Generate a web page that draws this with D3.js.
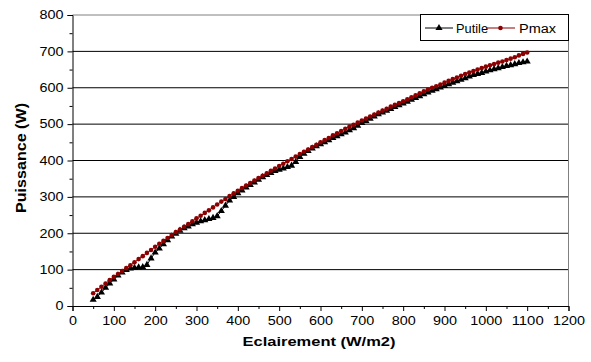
<!DOCTYPE html>
<html><head><meta charset="utf-8">
<script src="https://cdn.jsdelivr.net/npm/d3@7"></script>
<style>
html,body{margin:0;padding:0;background:#fff;}
svg{display:block;font-family:"Liberation Sans",Arial,sans-serif;}
</style></head>
<body><svg id="c" width="591" height="362"></svg>
<script>
const irradiance = [50,60,70,80,90,100,110,120,130,140,150,160,170,180,190,200,210,220,230,240,250,260,270,280,290,300,310,320,330,340,350,360,370,380,390,400,410,420,430,440,450,460,470,480,490,500,510,520,530,540,550,560,570,580,590,600,610,620,630,640,650,660,670,680,690,700,710,720,730,740,750,760,770,780,790,800,810,820,830,840,850,860,870,880,890,900,910,920,930,940,950,960,970,980,990,1000,1010,1020,1030,1040,1050,1060,1070,1080,1090,1100];
const putile = [17,25,37,50,62,73,84,92,99,103,105,106,107,113,131,147,158,170,181,191,199,207,214,219,225,229,233,236,239,242,247,261,276,290,300,310,318,326,333,340,347,354,360,366,371,375,378,382,386,396,410,419,426,433,439,445,450,456,462,467,472,477,483,489,496,503,509,515,521,527,532,537,542,547,552,557,562,567,572,577,582,587,592,596,601,605,610,614,618,622,626,631,635,638,641,645,648,651,654,657,660,662,665,668,670,672];
const pmax = [35,44,53,62,71,80,88,96,104,112,120,129,137,146,154,163,171,179,187,195,203,210,218,225,233,241,248,256,263,271,279,287,294,302,310,317,324,331,338,345,352,358,365,372,378,385,391,398,404,411,418,424,430,437,443,450,456,462,469,475,481,487,493,498,504,510,515,521,526,532,537,542,548,553,558,563,568,574,579,585,590,595,600,604,609,614,619,624,628,633,638,642,646,650,654,658,662,665,669,672,676,680,684,689,693,697];
const xTicks = [0,100,200,300,400,500,600,700,800,900,1000,1100,1200];
const yTicks = [0,100,200,300,400,500,600,700,800];
const seriesNames = ["Putile","Pmax"];
const xTitle = "Eclairement (W/m2)";
const yTitle = "Puissance (W)";

const svg = d3.select("#c");
const x = d3.scaleLinear().domain([0,1200]).range([72.5,568.5]);
const y = d3.scaleLinear().domain([0,800]).range([306,15]);
const RED = "#8b0000";

// gridlines
svg.append("g").selectAll("line").data(yTicks.filter(d=>d>0&&d<800)).join("line")
  .attr("x1",x(0)).attr("x2",x(1200)).attr("y1",d=>y(d)).attr("y2",d=>y(d))
  .attr("stroke","#000").attr("stroke-width",1);
// plot border top/right
svg.append("path").attr("d",`M${x(0)},${y(800)}H${x(1200)}V${y(0)}`)
  .attr("fill","none").attr("stroke","#808080").attr("stroke-width",1);

// axes
const yAxis = d3.axisLeft(y).tickValues(yTicks).tickSize(5).tickPadding(4).tickFormat(d3.format("d"));
const gy = svg.append("g").attr("transform",`translate(${x(0)},0)`).call(yAxis);
const yMinor = svg.append("g").attr("transform",`translate(${x(0)},0)`)
  .call(d3.axisLeft(y).tickValues(d3.range(50,800,100)).tickSize(3).tickFormat(""));
const xAxis = d3.axisBottom(x).tickValues(xTicks).tickSize(5).tickPadding(5).tickFormat(d3.format("d"));
const gx = svg.append("g").attr("transform",`translate(0,${y(0)})`).call(xAxis);
const xMinor = svg.append("g").attr("transform",`translate(0,${y(0)})`)
  .call(d3.axisBottom(x).tickValues(d3.range(50,1200,100)).tickSize(3).tickFormat(""));
[gy,gx,yMinor,xMinor].forEach(g=>{
  g.select(".domain").attr("stroke","#000");
  g.selectAll(".tick line").attr("stroke","#000");
});
xMinor.select(".domain").remove(); yMinor.select(".domain").remove();
gy.selectAll(".tick text").attr("font-size",12).attr("fill","#000")
  .attr("font-family","Liberation Sans, Arial, sans-serif")
  .each(function(d){ const n=String(d).length; d3.select(this).attr("textLength",n*8).attr("lengthAdjust","spacingAndGlyphs");});
gx.selectAll(".tick text").attr("font-size",12).attr("fill","#000")
  .attr("font-family","Liberation Sans, Arial, sans-serif")
  .each(function(d){ const n=String(d).length; d3.select(this).attr("textLength",n*8).attr("lengthAdjust","spacingAndGlyphs");});

// titles
svg.append("text").attr("x",319).attr("y",346).attr("text-anchor","middle")
  .attr("font-weight","bold").attr("font-size",13).attr("textLength",153).attr("lengthAdjust","spacingAndGlyphs")
  .text(xTitle);
svg.append("text").attr("transform","translate(26,158) rotate(-90)").attr("text-anchor","middle")
  .attr("font-weight","bold").attr("font-size",15).attr("textLength",110).attr("lengthAdjust","spacingAndGlyphs")
  .text(yTitle);

// series
const line = d3.line().x((d,i)=>x(irradiance[i])).y(d=>y(d));
const tri = d3.symbol().type(d3.symbolTriangle).size(22);
svg.append("path").datum(putile).attr("d",line).attr("fill","none").attr("stroke","#000").attr("stroke-width",1);
svg.append("g").selectAll("path").data(putile).join("path")
  .attr("d",tri).attr("transform",(d,i)=>`translate(${x(irradiance[i])},${y(d)})`).attr("fill","#000");
svg.append("path").datum(pmax).attr("d",line).attr("fill","none").attr("stroke",RED).attr("stroke-width",1);
svg.append("g").selectAll("circle").data(pmax).join("circle")
  .attr("cx",(d,i)=>x(irradiance[i])).attr("cy",d=>y(d)).attr("r",2.3).attr("fill",RED);

// legend
const lg = svg.append("g");
lg.append("rect").attr("x",420.5).attr("y",14.5).attr("width",148).attr("height",26)
  .attr("fill","#fff").attr("stroke","#000").attr("stroke-width",1);
const items = [
  {name:seriesNames[0], x0:425, x1:453, color:"#000", marker:"tri", tx:456, tl:32},
  {name:seriesNames[1], x0:486, x1:515, color:RED, marker:"dot", tx:519, tl:37}
];
items.forEach(it=>{
  lg.append("line").attr("x1",it.x0).attr("x2",it.x1).attr("y1",28).attr("y2",28).attr("stroke",it.color);
  const cx=(it.x0+it.x1)/2;
  if(it.marker==="tri") lg.append("path").attr("d",tri).attr("transform",`translate(${cx},28)`).attr("fill",it.color);
  else lg.append("circle").attr("cx",cx).attr("cy",28).attr("r",2.3).attr("fill",it.color);
  lg.append("text").attr("x",it.tx).attr("y",32.5).attr("font-size",12.5)
    .attr("textLength",it.tl).attr("lengthAdjust","spacingAndGlyphs").text(it.name);
});
</script></body></html>
